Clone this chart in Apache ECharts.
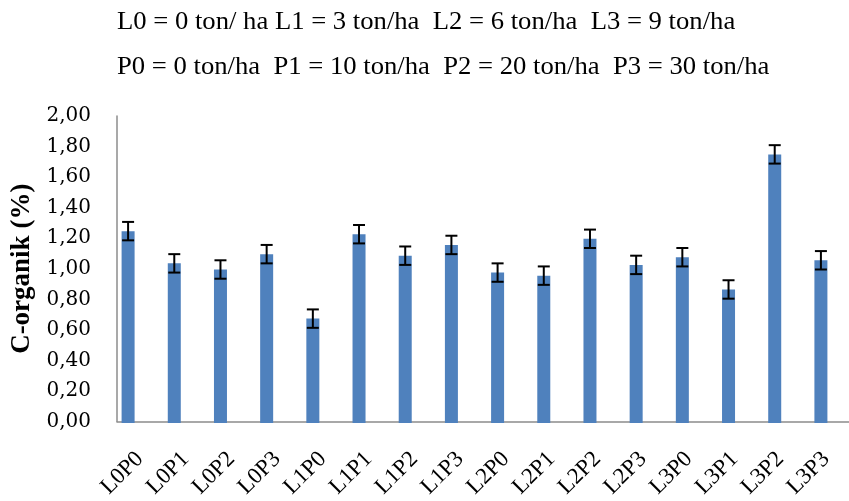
<!DOCTYPE html>
<html>
<head>
<meta charset="utf-8">
<script src="https://cdn.jsdelivr.net/npm/echarts@6/dist/echarts.min.js"></script>
<style>html,body{margin:0;padding:0;background:#fff;}#chart{width:849px;height:501px;}</style>
</head>
<body>
<div id="chart"></div>
<script>
const categories = ['L0P0','L0P1','L0P2','L0P3','L1P0','L1P1','L1P2','L1P3','L2P0','L2P1','L2P2','L2P3','L3P0','L3P1','L3P2','L3P3'];
const values = [1.25,1.04,1.00,1.10,0.68,1.23,1.09,1.16,0.98,0.96,1.20,1.03,1.08,0.87,1.75,1.06];
const errors = [0.06,0.06,0.06,0.06,0.06,0.06,0.06,0.06,0.06,0.06,0.06,0.06,0.06,0.06,0.06,0.06];
const titleLines = ['L0 = 0 ton/ ha L1 = 3 ton/ha  L2 = 6 ton/ha  L3 = 9 ton/ha',
                    'P0 = 0 ton/ha  P1 = 10 ton/ha  P2 = 20 ton/ha  P3 = 30 ton/ha'];
const yName = 'C-organik (%)';

const chart = echarts.init(document.getElementById('chart'), null, {renderer:'canvas'});
const axisColor = '#8c8c8c';
const serif = '"Liberation Serif", "DejaVu Serif", serif';

const errData = values.map((v, i) => [i, v - errors[i], v + errors[i]]);

chart.setOption({
  animation: false,
  backgroundColor: '#ffffff',
  graphic: titleLines.map((t, i) => ({
    type: 'text',
    left: 117,
    top: 9 + i * 45,
    scaleX: 1.025,
    style: { text: t, fontSize: 26, fontFamily: 'Liberation Serif', fill: '#000' }
  })),
  grid: [
    { left: 105, right: 5, top: 116, bottom: 78 },
    { left: 117, right: 0, top: 116, bottom: 78 }
  ],
  xAxis: [
    { type: 'category', gridIndex: 0, data: categories, show: false },
    { type: 'category', gridIndex: 1, data: categories,
      axisLine: { show: true, lineStyle: { color: axisColor, width: 1.5 } },
      axisTick: { show: false },
      axisLabel: { rotate: 45, margin: 34, color: '#000', fontFamily: serif, fontSize: 23, interval: 0 }
    }
  ],
  yAxis: [
    { type: 'value', gridIndex: 0, min: 0, max: 2, interval: 0.2, show: false },
    { type: 'value', gridIndex: 1, min: 0, max: 2, interval: 0.2,
      name: yName, nameLocation: 'middle', nameGap: 76, nameRotate: 90,
      nameTextStyle: { fontFamily: serif, fontWeight: 'bold', fontSize: 27, color: '#000' },
      axisLine: { show: true, lineStyle: { color: axisColor, width: 1.5 } },
      axisTick: { show: false },
      splitLine: { show: false },
      axisLabel: { margin: 26, color: '#000', fontFamily: '"DejaVu Serif", serif', fontSize: 20,
        formatter: v => v.toFixed(2).replace('.', ',') }
    }
  ],
  series: [
    { type: 'bar', xAxisIndex: 0, yAxisIndex: 0, data: values, barWidth: 13,
      itemStyle: { color: '#4F81BD' } },
    { type: 'custom', xAxisIndex: 0, yAxisIndex: 0, data: errData, z: 10,
      renderItem: function (params, api) {
        const x = api.value(0);
        const lo = api.coord([x, api.value(1)]);
        const hi = api.coord([x, api.value(2)]);
        const hw = 6;
        const st = { stroke: '#000', lineWidth: 2 };
        return { type: 'group', children: [
          { type: 'line', shape: { x1: lo[0], y1: lo[1], x2: hi[0], y2: hi[1] }, style: st },
          { type: 'line', shape: { x1: lo[0]-hw, y1: lo[1], x2: lo[0]+hw, y2: lo[1] }, style: st },
          { type: 'line', shape: { x1: hi[0]-hw, y1: hi[1], x2: hi[0]+hw, y2: hi[1] }, style: st }
        ]};
      }
    }
  ]
});
</script>
</body>
</html>
